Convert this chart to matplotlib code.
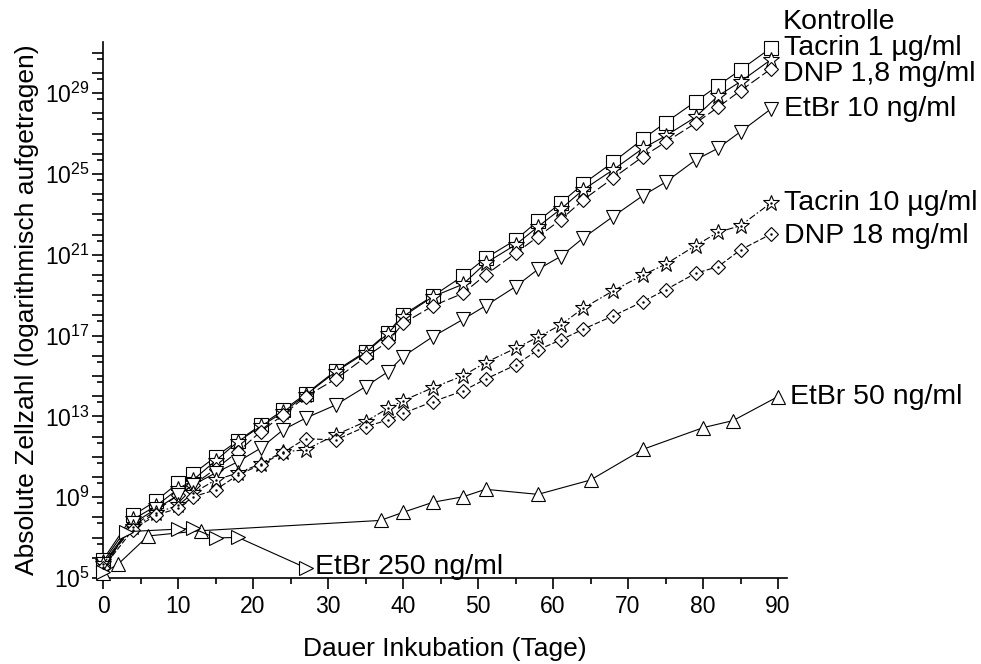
import matplotlib
matplotlib.use("Agg")
import matplotlib.pyplot as plt
import numpy as np
from matplotlib.ticker import FixedLocator, FuncFormatter, NullFormatter, MultipleLocator

plt.rcParams['font.family'] = ['Liberation Sans', 'DejaVu Sans']
plt.rcParams['mathtext.fontset'] = 'custom'
plt.rcParams['mathtext.rm'] = 'Liberation Sans'
plt.rcParams['mathtext.it'] = 'Liberation Sans'

# ---- data (cell counts given as log10 values) ----
days = [0, 4, 7, 10, 12, 15, 18, 21, 24, 27, 31, 35, 38, 40, 44, 48, 51, 55,
        58, 61, 64, 68, 72, 75, 79, 82, 85, 89]

kontrolle_log = [5.9, 8.1, 8.8, 9.7, 10.15, 11.0, 11.8, 12.55, 13.3, 14.1, 15.25, 16.2,
                 17.15, 18.02, 18.96, 19.95, 20.83, 21.73, 22.67, 23.55, 24.50, 25.58,
                 26.73, 27.54, 28.58, 29.37, 30.15, 31.22]
tacrin1_log = [5.8, 7.9, 8.55, 9.4, 9.85, 10.8, 11.75, 12.5, 13.2, 14.05, 15.2, 16.15,
               17.1, 17.94, 18.93, 19.54, 20.58, 21.49, 22.39, 23.25, 24.21, 25.20,
               26.27, 26.88, 27.81, 28.86, 29.57, 30.64]
dnp1_8_log = [5.6, 7.6, 8.3, 9.1, 9.6, 10.4, 11.25, 12.24, 13.07, 13.98, 14.84, 15.93,
              16.7, 17.6, 18.47, 19.09, 20.0, 21.07, 21.90, 22.72, 23.71, 24.79,
              25.86, 26.57, 27.51, 28.30, 29.12, 30.18]
etbr10_log = [5.7, 7.7, 8.4, 9.1, 9.6, 10.2, 10.76, 11.42, 12.33, 12.91, 13.56, 14.47,
              15.21, 15.96, 16.95, 17.8, 18.47, 19.42, 20.28, 20.91, 21.82, 22.89,
              23.93, 24.59, 25.69, 26.27, 27.09, 28.20]
tacrin10_log = [5.7, 7.5, 8.2, 8.6, 9.2, 9.85, 10.2, 10.65, 11.25, 11.34, 12.08, 12.74,
                13.40, 13.78, 14.42, 15.01, 15.66, 16.37, 16.92, 17.52, 18.35, 19.21,
                20.0, 20.53, 21.45, 22.11, 22.44, 23.55]
dnp18_log = [5.5, 7.4, 8.1, 8.45, 9.02, 9.36, 10.1, 10.6, 11.2, 11.9, 11.83, 12.49,
             12.82, 13.15, 13.73, 14.26, 14.84, 15.54, 16.29, 16.78, 17.31, 17.97,
             18.68, 19.26, 20.08, 20.41, 21.24, 22.01]

etbr50_days = [0, 2, 6, 13, 37, 40, 44, 48, 51, 58, 65, 72, 80, 84, 90]
etbr50_log = [5.25, 5.68, 7.08, 7.34, 7.85, 8.25, 8.75, 9.02, 9.39, 9.14, 9.85, 11.37,
              12.44, 12.79, 13.98]

etbr250_days = [0, 3, 10, 12, 15, 18, 27]
etbr250_log = [5.3, 7.29, 7.42, 7.46, 6.98, 7.01, 5.51]

labels = ["Kontrolle", "Tacrin 1 µg/ml", "DNP 1,8 mg/ml", "EtBr 10 ng/ml",
          "Tacrin 10 µg/ml", "DNP 18 mg/ml", "EtBr 50 ng/ml", "EtBr 250 ng/ml"]

# ---- figure ----
W, H = 981, 664
fig = plt.figure(figsize=(W / 100, H / 100), dpi=100)
ax = fig.add_axes([103 / W, 86 / H, (787 - 103) / W, (622 - 86) / H])

lw = 0.8
LFS = 20.5
series = [
    (days, kontrolle_log, 's', 9.5, '-', False, (9, 19)),
    (days, tacrin1_log, '*', 12, '-', False, (10, 8.5)),
    (days, dnp1_8_log, 'D', 7.5, (0, (9, 3)), False, (9, -3.5)),
    (days, etbr10_log, 'v', 10, '-', False, (10, 0.5)),
    (days, tacrin10_log, '*', 12, (0, (6, 2, 1.5, 2)), True, (10, 0.5)),
    (days, dnp18_log, 'D', 7.5, (0, (5, 2)), True, (10, -1)),
    (etbr50_days, etbr50_log, '^', 10, '-', False, (9, 0)),
    (etbr250_days, etbr250_log, '>', 10, '-', False, (7, 0.5)),
]

for (xd, ylog, mk, ms, ls, dot, off), lab in zip(series, labels):
    yv = np.power(10.0, np.array(ylog))
    ax.plot(xd, yv, linestyle=ls, color='black', lw=lw, marker=mk, ms=ms,
            mfc='white', mec='black', mew=0.8, clip_on=False, zorder=3)
    if dot:
        ax.plot(xd, yv, linestyle='none', marker='.', ms=1.5, color='black',
                clip_on=False, zorder=4)
    ax.annotate(lab, xy=(xd[-1], yv[-1]), xytext=off, textcoords='offset points',
                ha='left', va='center', fontsize=LFS, annotation_clip=False)

ax.set_yscale('log')
ax.set_xlim(0, 91.2)
ax.set_ylim(1e5, 10 ** 31.53)

ax.spines['top'].set_visible(False)
ax.spines['right'].set_visible(False)
for s in ['left', 'bottom']:
    ax.spines[s].set_linewidth(1.2)

ax.xaxis.set_major_locator(MultipleLocator(10))
ax.xaxis.set_minor_locator(MultipleLocator(5))

ax.yaxis.set_major_locator(FixedLocator([10.0 ** k for k in range(5, 32)]))
ax.yaxis.set_minor_locator(FixedLocator([5 * 10.0 ** (k - 1) for k in range(6, 32)]))


def yfmt(v, pos):
    k = int(round(np.log10(v)))
    if (k - 5) % 4 == 0:
        return r'$\mathregular{10^{%d}}$' % k
    return ''


ax.yaxis.set_major_formatter(FuncFormatter(yfmt))
ax.yaxis.set_minor_formatter(NullFormatter())

ax.tick_params(axis='both', which='major', direction='out', length=8, width=1.2,
               labelsize=16.5)
ax.tick_params(axis='both', which='minor', direction='out', length=4, width=1.2)
ax.tick_params(axis='y', which='major', pad=1.5)
ax.tick_params(axis='x', which='major', pad=4)

ax.set_xlabel("Dauer Inkubation (Tage)", fontsize=19, labelpad=14)
ax.set_ylabel("Absolute Zellzahl (logarithmisch aufgetragen)", fontsize=19, labelpad=4)

fig.savefig("out.png", dpi=100)
